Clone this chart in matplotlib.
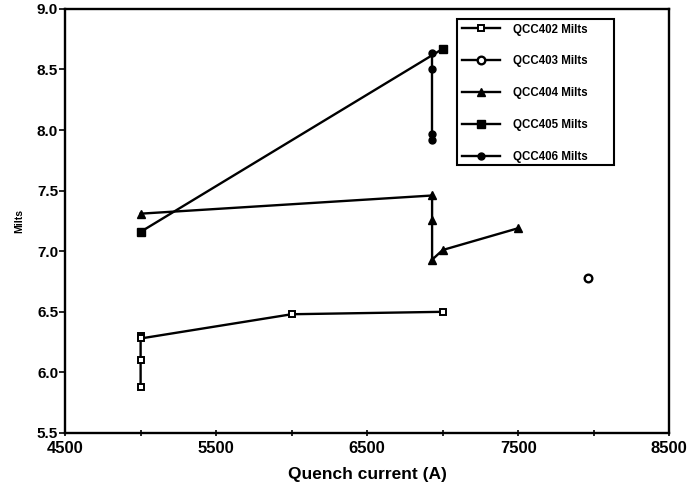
import matplotlib
matplotlib.use("Agg")
import matplotlib.pyplot as plt
from matplotlib.patches import Rectangle
from matplotlib.ticker import MultipleLocator, FuncFormatter

plt.rcParams['font.family'] = ['Liberation Sans', 'DejaVu Sans']
plt.rcParams['font.weight'] = 'bold'

# Data
q402_x = [5000, 5000, 5000, 5000, 6000, 7000]
q402_y = [5.88, 6.10, 6.30, 6.28, 6.48, 6.50]
q403_x = [7960]
q403_y = [6.78]
q404_x = [5000, 6930, 6930, 6930, 7000, 7500]
q404_y = [7.31, 7.46, 7.26, 6.93, 7.01, 7.19]
q405_x = [5000, 7000]
q405_y = [7.16, 8.67]
q406_x = [6930, 6930, 6930, 6930]
q406_y = [8.64, 8.50, 7.97, 7.92]
labels = ["QCC402 Milts", "QCC403 Milts", "QCC404 Milts", "QCC405 Milts", "QCC406 Milts"]

fig = plt.figure(figsize=(7, 4.94), dpi=100)
ax = fig.add_axes([0.093, 0.1235, 0.863, 0.8585])

lw = 1.7
ax.plot(q402_x, q402_y, '-', color='black', lw=lw, marker='s', ms=5, mfc='white', mec='black', mew=1.4, label=labels[0])
ax.plot(q403_x, q403_y, '-', color='black', lw=lw, marker='o', ms=5.5, mfc='white', mec='black', mew=1.7, label=labels[1])
ax.plot(q404_x, q404_y, '-', color='black', lw=lw, marker='^', ms=5.5, mfc='black', mec='black', label=labels[2])
ax.plot(q405_x, q405_y, '-', color='black', lw=lw, marker='s', ms=5.5, mfc='black', mec='black', label=labels[3])
ax.plot(q406_x, q406_y, '-', color='black', lw=lw, marker='o', ms=5, mfc='black', mec='black', label=labels[4])

ax.set_xlim(4500, 8500)
ax.set_ylim(5.5, 9.0)
ax.xaxis.set_major_locator(MultipleLocator(500))
ax.xaxis.set_major_formatter(FuncFormatter(lambda v, p: f"{int(round(v))}" if int(round(v)) % 1000 == 500 else ""))
ax.yaxis.set_major_locator(MultipleLocator(0.5))
ax.yaxis.set_major_formatter(FuncFormatter(lambda v, p: f"{v:.1f}"))

for s in ax.spines.values():
    s.set_linewidth(1.7)
ax.tick_params(axis='x', direction='inout', length=5, width=1.2, labelsize=12, pad=3)
ax.tick_params(axis='y', direction='out', length=4, width=1.2, labelsize=11, pad=1)
for t in ax.get_xticklabels() + ax.get_yticklabels():
    t.set_fontweight('bold')

ax.set_xlabel("Quench current (A)", fontsize=12.5, fontweight='bold', labelpad=8)
ax.set_ylabel("Milts", fontsize=7.5, fontweight='bold', labelpad=9)

leg = ax.legend(loc='upper left', bbox_to_anchor=(0.651, 0.975), fontsize=8.3,
                frameon=False, handlelength=3.3,
                labelspacing=1.72, borderpad=0.35, handletextpad=1.05, borderaxespad=0)
for t in leg.get_texts():
    t.set_fontweight('bold')

ax.add_patch(Rectangle((0.649, 0.632), 0.26, 0.344, transform=ax.transAxes,
                       fill=False, lw=1.5, edgecolor='black', clip_on=False, zorder=5))

fig.savefig("out.png", dpi=100)
